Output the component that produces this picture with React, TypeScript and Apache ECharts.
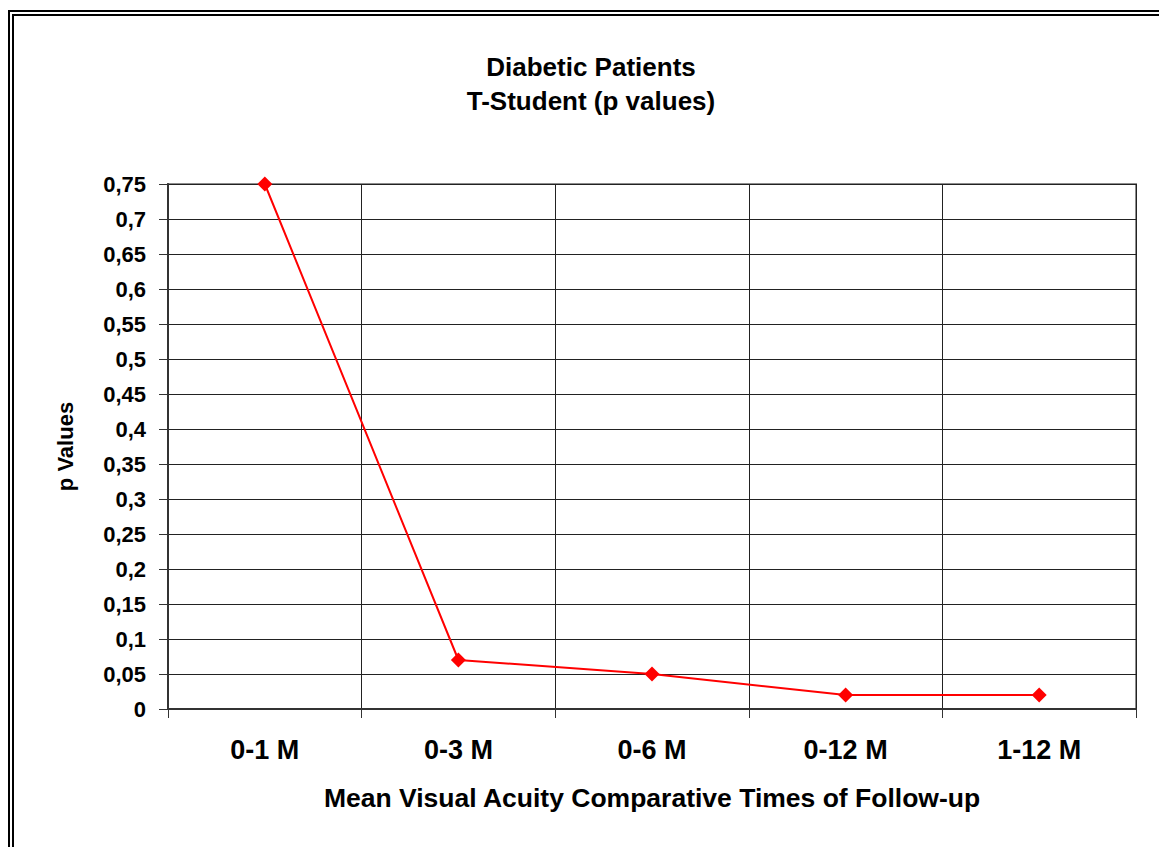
import React, { useEffect, useRef } from "react";
import * as echarts from "echarts";

const categories = ["0-1 M", "0-3 M", "0-6 M", "0-12 M", "1-12 M"];
const pValues = [0.75, 0.07, 0.05, 0.02, 0.02];
const titleLines = ["Diabetic Patients", "T-Student (p values)"];
const xAxisName = "Mean Visual Acuity Comparative Times of Follow-up";
const yAxisName = "p Values";

export default function App() {
  const ref = useRef<HTMLDivElement>(null);
  useEffect(() => {
    if (!ref.current) return;
    const chart = echarts.init(ref.current, undefined, { renderer: "svg" });
    const font = "'Liberation Sans', Arial, sans-serif";
    chart.setOption({
      animation: false,
      backgroundColor: "#fff",
      graphic: [
        { type: "line", shape: { x1: 9, y1: 11, x2: 9, y2: 847 }, style: { stroke: "#000", lineWidth: 2 } },
        { type: "line", shape: { x1: 8, y1: 11, x2: 1159, y2: 11 }, style: { stroke: "#000", lineWidth: 2 } },
        { type: "line", shape: { x1: 13, y1: 15, x2: 13, y2: 847 }, style: { stroke: "#000", lineWidth: 2 } },
        { type: "line", shape: { x1: 12, y1: 15, x2: 1159, y2: 15 }, style: { stroke: "#000", lineWidth: 2 } },
        ...titleLines.map((t, i) => ({
          type: "text",
          x: 591,
          y: 67 + i * 34,
          style: {
            text: t,
            fontFamily: font,
            fontWeight: "bold",
            fontSize: 26,
            fill: "#000",
            align: "center",
            verticalAlign: "middle",
          },
        })),
      ],
      grid: {
        left: 168,
        top: 184,
        right: 23,
        bottom: 138,
        show: true,
        borderColor: "#8c8c8c",
        borderWidth: 2,
      },
      xAxis: {
        type: "category",
        data: categories,
        boundaryGap: true,
        name: xAxisName,
        nameLocation: "middle",
        nameGap: 75,
        nameTextStyle: { fontFamily: font, fontWeight: "bold", fontSize: 26.5, color: "#000" },
        axisLine: { lineStyle: { color: "#333", width: 2 } },
        axisTick: { show: true, length: 9, lineStyle: { color: "#333", width: 1 } },
        axisLabel: { fontFamily: font, fontWeight: "bold", fontSize: 27, color: "#000", margin: 27 },
        splitLine: { show: true, lineStyle: { color: "#222", width: 1 } },
      },
      yAxis: {
        type: "value",
        min: 0,
        max: 0.75,
        interval: 0.05,
        name: yAxisName,
        nameLocation: "middle",
        nameGap: 92,
        nameTextStyle: { fontFamily: font, fontWeight: "bold", fontSize: 22, color: "#000" },
        axisLine: { show: true, lineStyle: { color: "#333", width: 2 } },
        axisTick: { show: true, length: 9, lineStyle: { color: "#333", width: 1 } },
        axisLabel: {
          fontFamily: font,
          fontWeight: "bold",
          fontSize: 22,
          color: "#000",
          margin: 22,
          formatter: (v: number) => String(+v.toFixed(2)).replace(".", ","),
        },
        splitLine: { show: true, lineStyle: { color: "#222", width: 1 } },
      },
      series: [
        {
          type: "line",
          data: pValues,
          symbol: "diamond",
          symbolSize: 15,
          lineStyle: { color: "#ff0000", width: 2 },
          itemStyle: { color: "#ff0000" },
        },
      ],
    });
    return () => chart.dispose();
  }, []);
  return (
    <div
      ref={ref}
      style={{ position: "fixed", left: 0, top: 0, width: 1159, height: 847 }}
    />
  );
}
